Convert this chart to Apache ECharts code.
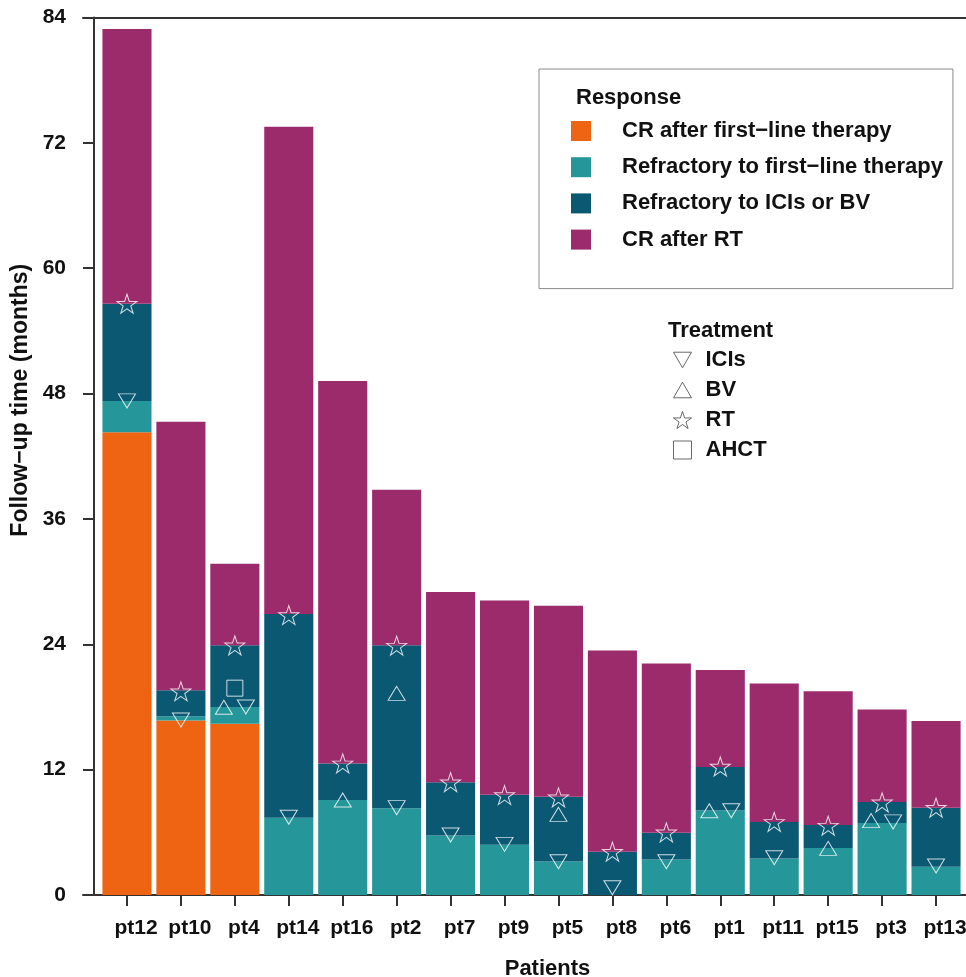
<!DOCTYPE html>
<html><head><meta charset="utf-8">
<script src="https://cdn.jsdelivr.net/npm/echarts@6/dist/echarts.min.js"></script>
<style>html,body{margin:0;padding:0;background:#fff}#c{width:966px;height:977px}</style>
</head><body><div id="c"></div>
<script>
// ---- data ----
const patients = ['pt12','pt10','pt4','pt14','pt16','pt2','pt7','pt9','pt5','pt8','pt6','pt1','pt11','pt15','pt3','pt13'];
const crFirstLine  = [44.3,16.7,16.4,0,0,0,0,0,0,0,0,0,0,0,0,0];
const refFirstLine = [3.0,0.4,1.6,7.4,9.1,8.3,5.7,4.8,3.2,0,3.4,8.1,3.5,4.5,6.9,2.7];
const refIciBv     = [9.3,2.5,5.9,19.5,3.5,15.6,5.1,4.8,6.2,4.15,2.55,4.15,3.5,2.2,2.0,5.65];
const crRT         = [26.3,25.7,7.8,46.65,36.6,14.9,18.2,18.6,18.3,19.25,16.2,9.3,13.25,12.8,8.85,8.3];

const iciPatients = ['pt12','pt10','pt4','pt14','pt2','pt7','pt9','pt5','pt8','pt6','pt1','pt11','pt3','pt13'];
const iciTimes    = [47.3,16.75,18.0,7.44,8.36,5.74,4.85,3.19,0.7,3.19,8.07,3.57,7.0,2.78];
const bvPatients  = ['pt4','pt16','pt2','pt5','pt1','pt15','pt3'];
const bvTimes     = [17.97,9.1,19.3,7.72,8.07,4.46,7.12];
const rtPatients  = ['pt12','pt10','pt4','pt14','pt16','pt2','pt7','pt9','pt5','pt8','pt6','pt1','pt11','pt15','pt3','pt13'];
const rtTimes     = [56.6,19.5,23.9,26.8,12.6,23.87,10.8,9.57,9.35,4.15,6.0,12.3,7.0,6.64,8.87,8.36];
const ahctPatients = ['pt4'];
const ahctTimes    = [19.8];
// patients where ICIs and BV were given at the same time (drawn side by side)
const pairedPatients = ['pt4','pt1','pt3'];

const yTicks = [0,12,24,36,48,60,72,84];
const responseNames = ['CR after first\u2212line therapy','Refractory to first\u2212line therapy','Refractory to ICIs or BV','CR after RT'];
const treatmentNames = ['ICIs','BV','RT','AHCT'];

// ---- styles ----
const colors = ['#EE6412','#25979A','#0B5873','#9C2B6C'];
const FONT = 'Liberation Sans, Arial, sans-serif';
const DOWN = 'path://M0,0 L100,0 L50,86.6 Z';
const UP = 'path://M50,0 L100,86.6 L0,86.6 Z';
const STAR = 'path://M50,0 L61.2,34.5 L97.6,34.5 L68.2,55.9 L79.4,90.5 L50,69.1 L20.6,90.5 L31.8,55.9 L2.4,34.5 L38.8,34.5 Z';
const SQUARE = 'path://M0,0 L100,0 L100,100 L0,100 Z';

function pts(names, vals, dx) {
  return names.map((n, i) => {
    const o = { value: [n, vals[i]] };
    if (dx && pairedPatients.includes(n)) o.symbolOffset = [dx, 0];
    return o;
  });
}

const barData = [crFirstLine, refFirstLine, refIciBv, crRT];
const barSeries = barData.map((d, i) => ({
  name: responseNames[i], type: 'bar', stack: 'total',
  xAxisIndex: 0, yAxisIndex: 0,
  barCategoryGap: '9%',
  itemStyle: { color: colors[i] },
  data: d, z: 2
}));

const markerStyle = { color: 'rgba(0,0,0,0)', borderColor: '#ffffff', borderWidth: 1 };
const scatterSeries = [
  { name: treatmentNames[0], symbol: DOWN, symbolSize: [17, 14], data: pts(iciPatients, iciTimes, 11) },
  { name: treatmentNames[1], symbol: UP, symbolSize: [17, 14], data: pts(bvPatients, bvTimes, -11) },
  { name: treatmentNames[2], symbol: STAR, symbolSize: [20, 19], data: pts(rtPatients, rtTimes, 0) },
  { name: treatmentNames[3], symbol: SQUARE, symbolSize: [16, 16], data: pts(ahctPatients, ahctTimes, 0) }
].map(s => Object.assign(s, { type: 'scatter', xAxisIndex: 0, yAxisIndex: 0, itemStyle: markerStyle, z: 5 }));

const legendIcon = { color: '#ffffff', borderColor: '#444', borderWidth: 1 };
const titleStyle = { fontFamily: FONT, fontSize: 22, fontWeight: 'bold', color: '#111' };
const option = {
  animation: false,
  backgroundColor: '#ffffff',
  textStyle: { fontFamily: FONT },
  title: [
    { text: 'Response', left: 571, top: 82, textStyle: titleStyle },
    { text: 'Treatment', left: 663, top: 315, textStyle: titleStyle }
  ],
  legend: [
    {
      orient: 'vertical', left: 539, top: 69,
      padding: [51, 10, 38, 32],
      borderColor: '#8a8a8a', borderWidth: 1,
      itemWidth: 20, itemHeight: 20, itemGap: 14.2,
      icon: 'rect',
      data: responseNames,
      selectedMode: false,
      textStyle: { fontFamily: FONT, fontSize: 22, fontWeight: 'bold', color: '#111', lineHeight: 20, padding: [0, 0, 0, 26] }
    },
    {
      orient: 'vertical', left: 673, top: 349, padding: 0,
      itemWidth: 18, itemHeight: 18, itemGap: 8,
      selectedMode: false,
      data: [
        { name: treatmentNames[0], icon: DOWN, itemStyle: legendIcon },
        { name: treatmentNames[1], icon: UP, itemStyle: legendIcon },
        { name: treatmentNames[2], icon: STAR, itemStyle: legendIcon },
        { name: treatmentNames[3], icon: SQUARE, itemStyle: legendIcon }
      ],
      textStyle: { fontFamily: FONT, fontSize: 22, fontWeight: 'bold', color: '#111', lineHeight: 18, padding: [0, 0, 0, 9] }
    }
  ],
  grid: [
    { left: 100, right: 3, top: 17.5, bottom: 82, outerBoundsMode: 'none', containLabel: false },
    { left: 83, right: 0, top: 17.5, bottom: 82, outerBoundsMode: 'none', containLabel: false }
  ],
  xAxis: [
    {
      type: 'category', gridIndex: 0, data: patients,
      name: 'Patients', nameLocation: 'middle', nameGap: 63,
      nameTextStyle: { fontFamily: FONT, fontSize: 22, fontWeight: 'bold', color: '#111', padding: [0, 0, 0, 32] },
      axisLine: { show: false },
      axisTick: { show: true, alignWithLabel: true, length: 11, lineStyle: { color: '#333', width: 2 } },
      axisLabel: { fontFamily: FONT, fontSize: 21, fontWeight: 'bold', color: '#111', margin: 23, padding: [0, 0, 0, 18], interval: 0 }
    },
    {
      type: 'value', gridIndex: 1, min: 0, max: 1, position: 'bottom',
      axisLine: { show: true, onZero: false, lineStyle: { color: '#333', width: 2 } },
      axisTick: { show: false }, axisLabel: { show: false }, splitLine: { show: false }
    },
    {
      type: 'value', gridIndex: 1, min: 0, max: 1, position: 'top',
      axisLine: { show: true, onZero: false, lineStyle: { color: '#333', width: 2 } },
      axisTick: { show: false }, axisLabel: { show: false }, splitLine: { show: false }
    }
  ],
  yAxis: [
    {
      type: 'value', gridIndex: 0, min: yTicks[0], max: yTicks[yTicks.length - 1], interval: 12,
      offset: 6,
      name: 'Follow\u2212up time (months)', nameLocation: 'middle', nameGap: 60, nameRotate: 90,
      nameTextStyle: { fontFamily: FONT, fontSize: 23, fontWeight: 'bold', color: '#111', padding: [0, 0, 0, 112] },
      axisLine: { show: true, lineStyle: { color: '#333', width: 2 } },
      axisTick: { show: true, length: 11, lineStyle: { color: '#333', width: 2 } },
      axisLabel: { fontFamily: FONT, fontSize: 21, fontWeight: 'bold', color: '#111', margin: 28 },
      splitLine: { show: false }
    },
    {
      type: 'value', gridIndex: 1, min: 0, max: 1, show: false
    }
  ],
  series: barSeries.concat(scatterSeries)
};
const chart = echarts.init(document.getElementById('c'), null, { renderer: 'canvas' });
chart.setOption(option);
</script>
</body></html>
